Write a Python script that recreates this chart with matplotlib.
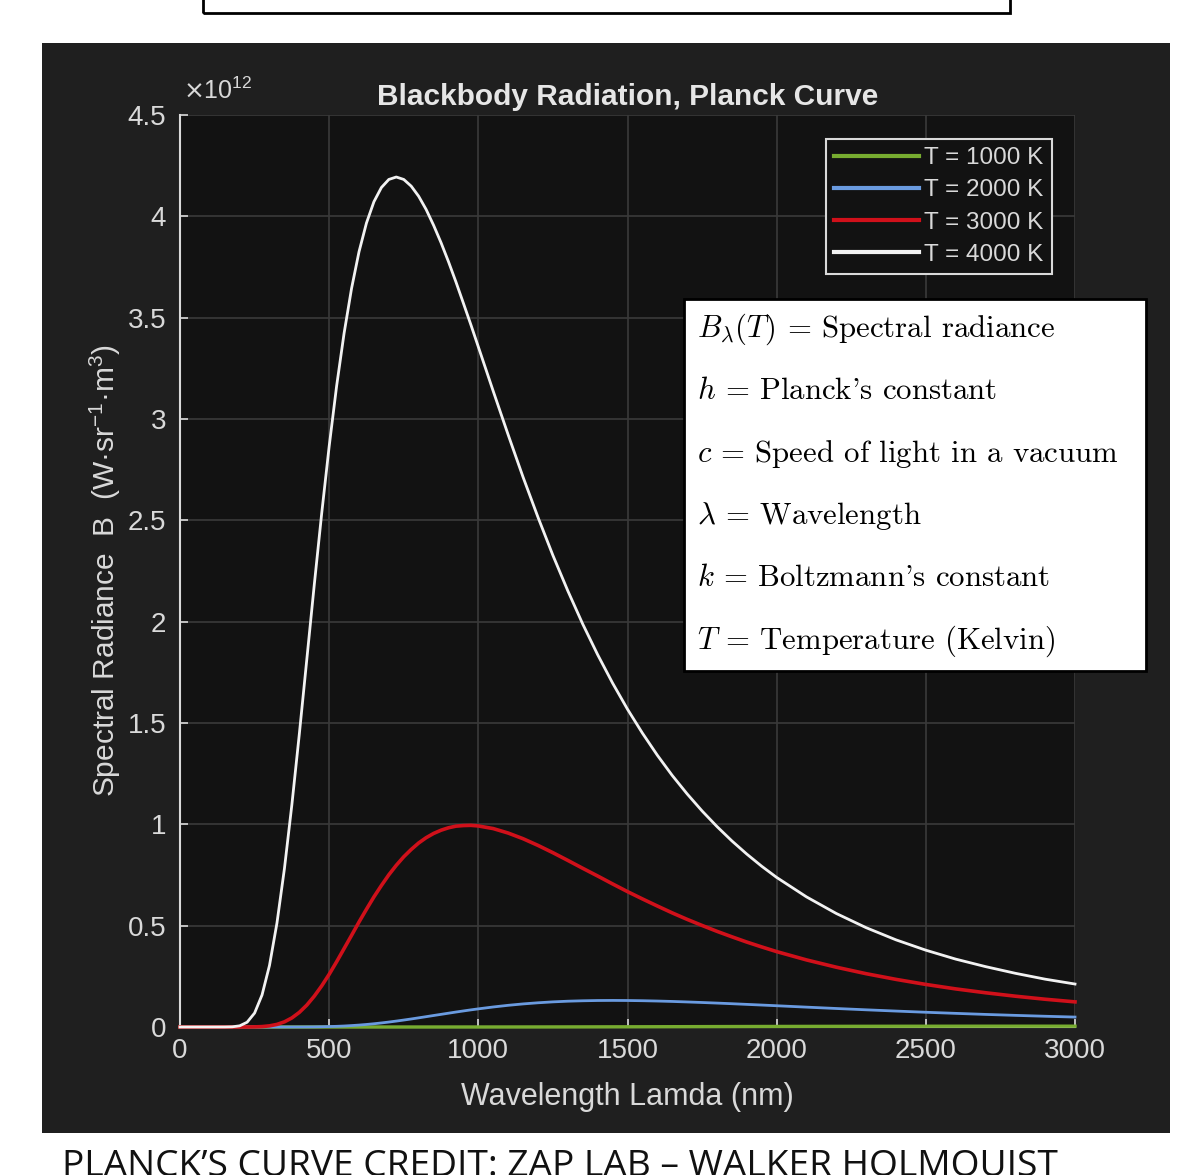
import matplotlib
matplotlib.use("Agg")
import matplotlib.pyplot as plt
from matplotlib.patches import Rectangle

# wavelength grid (nm) and spectral radiance (units of 1e12)
wavelength = [0, 100, 150,
              175, 200, 225, 250, 275, 300, 325, 350, 375, 400, 425, 450, 475, 500,
              525, 550, 575, 600, 625, 650, 675, 700, 725, 750, 775, 800, 825, 850,
              875, 900, 925, 950, 975, 1000,
              1050, 1100, 1150, 1200, 1250, 1300, 1350, 1400, 1450, 1500, 1550, 1600,
              1650, 1700, 1750, 1800, 1850, 1900, 1950, 2000,
              2100, 2200, 2300, 2400, 2500, 2600, 2700, 2800, 2900, 3000]

b_1000 = [0] * 28 + [
    0.00001, 0.00001, 0.00001, 0.00002, 0.00002, 0.00003, 0.00004, 0.00006, 0.00007,
    0.0001, 0.00015, 0.00022, 0.0003, 0.00039, 0.0005, 0.00062, 0.00076, 0.00091, 0.00107,
    0.00124, 0.00141, 0.00159, 0.00177, 0.00195, 0.00213, 0.0023, 0.00248, 0.00264, 0.0028,
    0.00309, 0.00334, 0.00356, 0.00374, 0.00387, 0.00398, 0.00404, 0.00408, 0.0041, 0.00408]

b_2000 = [0] * 11 + [
    0.0001, 0.0002, 0.0004, 0.0007, 0.0013, 0.0022, 0.0033, 0.0049, 0.0070, 0.0095,
    0.0125, 0.016, 0.020, 0.0244, 0.0292, 0.0343, 0.0396, 0.0452, 0.0509, 0.0567,
    0.0624, 0.0681, 0.0738, 0.0792, 0.0845, 0.0895,
    0.0988, 0.107, 0.1139, 0.1195, 0.124, 0.1273, 0.1294, 0.1307, 0.1311, 0.1307,
    0.1297, 0.1281, 0.1261, 0.1236, 0.1209, 0.118, 0.1149, 0.1116, 0.1083, 0.1049,
    0.098, 0.0913, 0.0848, 0.0786, 0.0727, 0.0673, 0.0621, 0.0574, 0.053, 0.049]

b_3000 = [0, 0, 0,
          0, 0, 0.0001, 0.0006, 0.002, 0.0056, 0.0128, 0.0254, 0.0448, 0.0722, 0.108,
          0.152, 0.203, 0.260, 0.322, 0.387, 0.452, 0.518, 0.581, 0.642, 0.698, 0.751,
          0.798, 0.840, 0.876, 0.908, 0.934, 0.955, 0.971, 0.983, 0.991, 0.994, 0.995, 0.992,
          0.979, 0.957, 0.929, 0.896, 0.860, 0.822, 0.783, 0.745, 0.706, 0.668, 0.632, 0.597,
          0.563, 0.531, 0.501, 0.472, 0.445, 0.419, 0.395, 0.372,
          0.331, 0.295, 0.263, 0.235, 0.210, 0.188, 0.169, 0.152, 0.137, 0.124]

b_4000 = [0, 0, 0.0001,
          0.0009, 0.0058, 0.0236, 0.0688, 0.158, 0.304, 0.513, 0.781, 1.097, 1.446, 1.813,
          2.181, 2.535, 2.865, 3.163, 3.423, 3.644, 3.825, 3.967, 4.072, 4.142, 4.182,
          4.194, 4.182, 4.149, 4.099, 4.034, 3.956, 3.870, 3.776, 3.676, 3.571, 3.465, 3.356,
          3.137, 2.922, 2.713, 2.515, 2.327, 2.152, 1.988, 1.837, 1.697, 1.568, 1.450, 1.341,
          1.241, 1.150, 1.066, 0.989, 0.918, 0.853, 0.793, 0.738,
          0.642, 0.560, 0.490, 0.430, 0.379, 0.335, 0.298, 0.265, 0.236, 0.212]

labels = ["T = 1000 K", "T = 2000 K", "T = 3000 K", "T = 4000 K"]
series = [b_1000, b_2000, b_3000, b_4000]
colors = ["#77AC30", "#6A9BE0", "#D0101A", "#F2F2F2"]
widths = [2.4, 2.0, 2.6, 2.0]

x_ticks = [0, 500, 1000, 1500, 2000, 2500, 3000]
y_ticks = [0, 0.5, 1, 1.5, 2, 2.5, 3, 3.5, 4, 4.5]

legend_lines = [
    r"$B_\lambda(T)$ = Spectral radiance",
    r"$h$ = Planck's constant",
    r"$c$ = Speed of light in a vacuum",
    r"$\lambda$ = Wavelength",
    r"$k$ = Boltzmann's constant",
    r"$T$ = Temperature (Kelvin)",
]

plt.rcParams['font.family'] = ['Liberation Sans', 'DejaVu Sans']
fg = "#D9D9D9"

fig = plt.figure(figsize=(12, 11.75), dpi=100, facecolor="white")
W, H = 1200, 1175

# dark panel behind the axes
fig.patches.append(Rectangle((42 / W, 1 - 1133 / H), 1128 / W, 1090 / H,
                             transform=fig.transFigure, facecolor="#1F1F1F",
                             edgecolor="none", zorder=-10))
# cut-off box at the top
fig.patches.append(Rectangle((203 / W, 1 - 13 / H), 807 / W, 0.05,
                             transform=fig.transFigure, facecolor="none",
                             edgecolor="black", linewidth=2, zorder=-5))

ax = fig.add_axes([180 / W, 1 - 1027 / H, 895 / W, 912 / H])
ax.set_facecolor("#121212")

for vals, lab, col, lw in zip(series, labels, colors, widths):
    ax.plot(wavelength, vals, color=col, lw=lw, label=lab, solid_joinstyle="round",
            zorder=3, clip_on=False)

ax.set_xlim(0, 3000)
ax.set_ylim(0, 4.5)
ax.set_xticks(x_ticks)
ax.set_yticks(y_ticks)
ax.set_yticklabels([f"{v:g}" for v in y_ticks])
ax.tick_params(direction="in", colors=fg, labelsize=20, length=6, width=1.2, pad=8)
ax.tick_params(axis="y", pad=10)
for s in ["top", "right"]:
    ax.spines[s].set_visible(False)
for s in ["left", "bottom"]:
    ax.spines[s].set_color(fg)
    ax.spines[s].set_linewidth(1.5)
ax.grid(True, color="#3A3A3A", lw=1.2)
ax.set_axisbelow(True)

ax.set_title("Blackbody Radiation, Planck Curve", color="#E6E6E6", fontsize=21.5,
             fontweight="bold", pad=7)
ax.set_xlabel("Wavelength Lamda (nm)", color=fg, fontsize=22)
ax.xaxis.set_label_coords(0.5, -0.060)
ax.set_ylabel(r"Spectral Radiance  B  (W·sr$^{\mathregular{-1}}$·m$^{\mathregular{3}}$)",
              color=fg, fontsize=21.5)
ax.yaxis.set_label_coords(-0.064, 0.5)
ax.text(0.003, 1.012, r"$\times$10$^{\mathregular{12}}$", transform=ax.transAxes,
        color=fg, fontsize=18, va="bottom", ha="left")

leg = ax.legend(loc="upper right", bbox_to_anchor=(0.974, 0.974), borderaxespad=0,
                fontsize=17.5, frameon=True, fancybox=False, handlelength=3.5,
                handletextpad=0.2, labelspacing=0.42, borderpad=0.35)
leg.get_frame().set_facecolor("#121212")
leg.get_frame().set_edgecolor(fg)
leg.get_frame().set_linewidth(1.5)
leg.get_frame().set_alpha(1)
leg.set_zorder(6)
for t in leg.get_texts():
    t.set_color(fg)
for ln in leg.get_lines():
    ln.set_linewidth(3)

# white definitions box
fig.patches.append(Rectangle((684 / W, 1 - 671 / H), 462 / W, 372 / H,
                             transform=fig.transFigure, facecolor="white",
                             edgecolor="black", linewidth=2, zorder=5))
baselines = [337, 399, 462, 524, 586, 649]
for txt, yb in zip(legend_lines, baselines):
    fig.text(697 / W, 1 - yb / H, txt, family="cmr10", math_fontfamily="cm",
             fontsize=22.2, color="black", va="baseline", ha="left", zorder=6)

fig.text(62 / W, 1 - 1176 / H, "PLANCK’S CURVE CREDIT: ZAP LAB – WALKER HOLMQUIST",
         family="Open Sans", fontsize=26.7, color="#111111", va="baseline", ha="left")

fig.savefig("out.png", dpi=100, facecolor="white")
